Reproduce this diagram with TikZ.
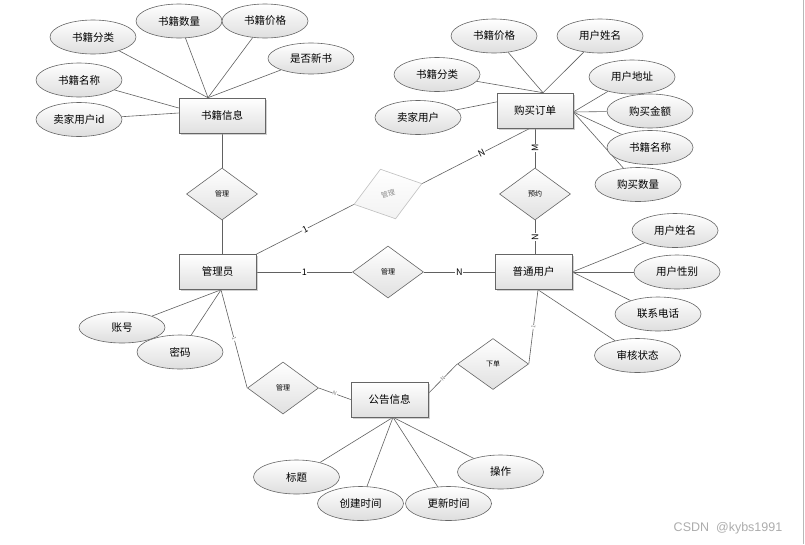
\documentclass[tikz,border=0pt]{standalone}
\usepackage{fontspec}
\setmainfont{Noto Sans CJK SC}
\newfontfamily\wmfont{Liberation Sans}
\usetikzlibrary{shapes.geometric,shadows}
\pgfdeclarelayer{bg}
\pgfdeclarelayer{paper}
\pgfsetlayers{paper,bg,main}
\begin{document}
\begin{tikzpicture}[x=1pt,y=-1pt,
  conn/.style={draw=black!62, line width=0.6pt},
  attr/.style={ellipse, draw=black!60, line width=0.6pt, top color=white, bottom color=black!13,
    minimum width=86pt, minimum height=34pt, inner sep=0pt, font=\fontsize{10.5}{12}\selectfont},
  ent/.style={rectangle, draw=black!60, line width=0.6pt, top color=white, bottom color=black!12,
    minimum width=77pt, minimum height=35pt, inner sep=0pt, font=\fontsize{10.5}{12}\selectfont,
    drop shadow={shadow xshift=1.5pt, shadow yshift=-1.5pt, fill=black!40, opacity=0.45}},
  rel/.style={diamond, draw=black!60, line width=0.6pt, top color=white, bottom color=black!12,
    minimum width=71pt, minimum height=52pt, inner sep=0pt, font=\fontsize{7}{8}\selectfont},
  card/.style={fill=white, inner sep=0.6pt, font=\fontsize{9}{10}\selectfont},
  tinycard/.style={fill=white, inner sep=0.3pt, font=\fontsize{5.5}{6}\selectfont, text=black!50},
]
\useasboundingbox (0,0) rectangle (805,544);
\begin{pgfonlayer}{paper}
  \fill[white] (0,0) rectangle (805,544);
\end{pgfonlayer}

% entities
\node[ent, minimum width=86pt] (sjxx) at (222,115.5) {书籍信息};
\node[ent, minimum width=76pt] (gmdd) at (535,110.5) {购买订单};
\node[ent] (gly) at (217.5,272) {管理员};
\node[ent] (ptyh) at (533.5,272) {普通用户};
\node[ent] (ggxx) at (389.5,399.5) {公告信息};

% relationships
\node[rel] (r1) at (222,194) {管理};
\node[rel] (r2) at (388,272) {管理};
\node[rel] (r3) at (535,194) {预约};
\node[rel, draw=black!25, text=black!45, bottom color=black!5, rotate=17] (r4) at (388,194) {管理};
\node[rel, minimum height=51pt] (r5) at (493,364) {下单};
\node[rel] (r6) at (283,388) {管理};

% attributes of 书籍信息
\node[attr] (a1) at (93,37) {书籍分类};
\node[attr] (a2) at (179,21) {书籍数量};
\node[attr] (a3) at (265,21) {书籍价格};
\node[attr, minimum height=31pt] (a4) at (311,58.5) {是否新书};
\node[attr] (a5) at (79,80) {书籍名称};
\node[attr] (a6) at (79,119.5) {卖家用户id};

% attributes of 购买订单
\node[attr] (b1) at (494,36) {书籍价格};
\node[attr] (b2) at (600,36) {用户姓名};
\node[attr] (b3) at (437,74.5) {书籍分类};
\node[attr] (b4) at (632,77) {用户地址};
\node[attr] (b5) at (418,117.5) {卖家用户};
\node[attr] (b6) at (650,111) {购买金额};
\node[attr] (b7) at (650,147.5) {书籍名称};
\node[attr] (b8) at (638,184.5) {购买数量};

% attributes of 管理员
\node[attr, minimum height=31pt] (c1) at (122,327.5) {账号};
\node[attr] (c2) at (180,352) {密码};

% attributes of 普通用户
\node[attr] (d1) at (675,230.5) {用户姓名};
\node[attr] (d2) at (677,272) {用户性别};
\node[attr] (d3) at (658,314) {联系电话};
\node[attr] (d4) at (637.5,355.5) {审核状态};

% attributes of 公告信息
\node[attr] (e1) at (296.5,477) {标题};
\node[attr] (e2) at (360.5,503.5) {创建时间};
\node[attr] (e3) at (448.5,503.5) {更新时间};
\node[attr] (e4) at (500.5,472) {操作};

\node[text=black!32, font=\wmfont\fontsize{12.5}{14}\selectfont] (wm) at (728,528) {CSDN\ \ @kybs1991};

\begin{pgfonlayer}{bg}
  \coordinate (sjtop) at ([xshift=-14pt]sjxx.north);
  \coordinate (ddtop) at ([xshift=8pt]gmdd.north);
  \coordinate (ddright) at ([yshift=-1.5pt]gmdd.east);
  \coordinate (glybot) at ([xshift=3.5pt]gly.south);
  \coordinate (ptbot) at ([xshift=4.5pt]ptyh.south);
  \coordinate (ggbot) at ([xshift=3.5pt]ggxx.south);

  \draw[conn] (a1) -- (sjtop);
  \draw[conn] (a2) -- (sjtop);
  \draw[conn] (a3) -- (sjtop);
  \draw[conn] (a4) -- (sjtop);
  \draw[conn] (a5) -- ([yshift=7.5pt]sjxx.west);
  \draw[conn] (a6) -- ([yshift=2.5pt]sjxx.west);

  \draw[conn] (b1) -- (ddtop);
  \draw[conn] (b2) -- (ddtop);
  \draw[conn] (b3) -- (ddtop);
  \draw[conn] (b5) -- (ddtop);
  \draw[conn] (b4) -- (ddright);
  \draw[conn] (b6) -- (ddright);
  \draw[conn] (b7) -- (ddright);
  \draw[conn] (b8) -- (ddright);

  \draw[conn] (c1) -- (glybot);
  \draw[conn] (c2) -- (glybot);

  \draw[conn] (d1) -- (ptyh.east);
  \draw[conn] (d2) -- (ptyh.east);
  \draw[conn] (d3) -- (ptyh.east);
  \draw[conn] (d4) -- (ptbot);

  \draw[conn] (e1) -- (ggbot);
  \draw[conn] (e2) -- (ggbot);
  \draw[conn] (e3) -- (ggbot);
  \draw[conn] (e4) -- (ggbot);

  % relationship links
  \draw[conn] (sjxx.south) -- (r1.north);
  \draw[conn] (r1.south) -- (r1.south |- gly.north);
  \draw[conn] (gly.north east) -- node[card, sloped] {1} (r4.west);
  \draw[conn] (r4.east) -- node[card, sloped, pos=0.55] {N} ([xshift=-5pt]gmdd.south);
  \draw[conn] (gmdd.south) -- node[card, rotate=90] {M} (r3.north);
  \draw[conn] (r3.south) -- node[card, rotate=90] {N} (r3.south |- ptyh.north);
  \draw[conn] (gly.east) -- node[card] {1} (r2.west);
  \draw[conn] (r2.east) -- node[card] {N} (ptyh.west);
  \draw[conn] (glybot) -- node[tinycard, sloped] {1} (r6.west);
  \draw[conn] (r6.east) -- node[tinycard, sloped] {N} (ggxx.west);
  \draw[conn] ([yshift=6pt]ggxx.east) -- node[tinycard, sloped] {N} (r5.west);
  \draw[conn] (r5.east) -- node[tinycard, sloped] {1} (ptbot);
\end{pgfonlayer}

\draw[black!28, line width=1pt] (803.5,0) -- (803.5,544);
\end{tikzpicture}
\end{document}
